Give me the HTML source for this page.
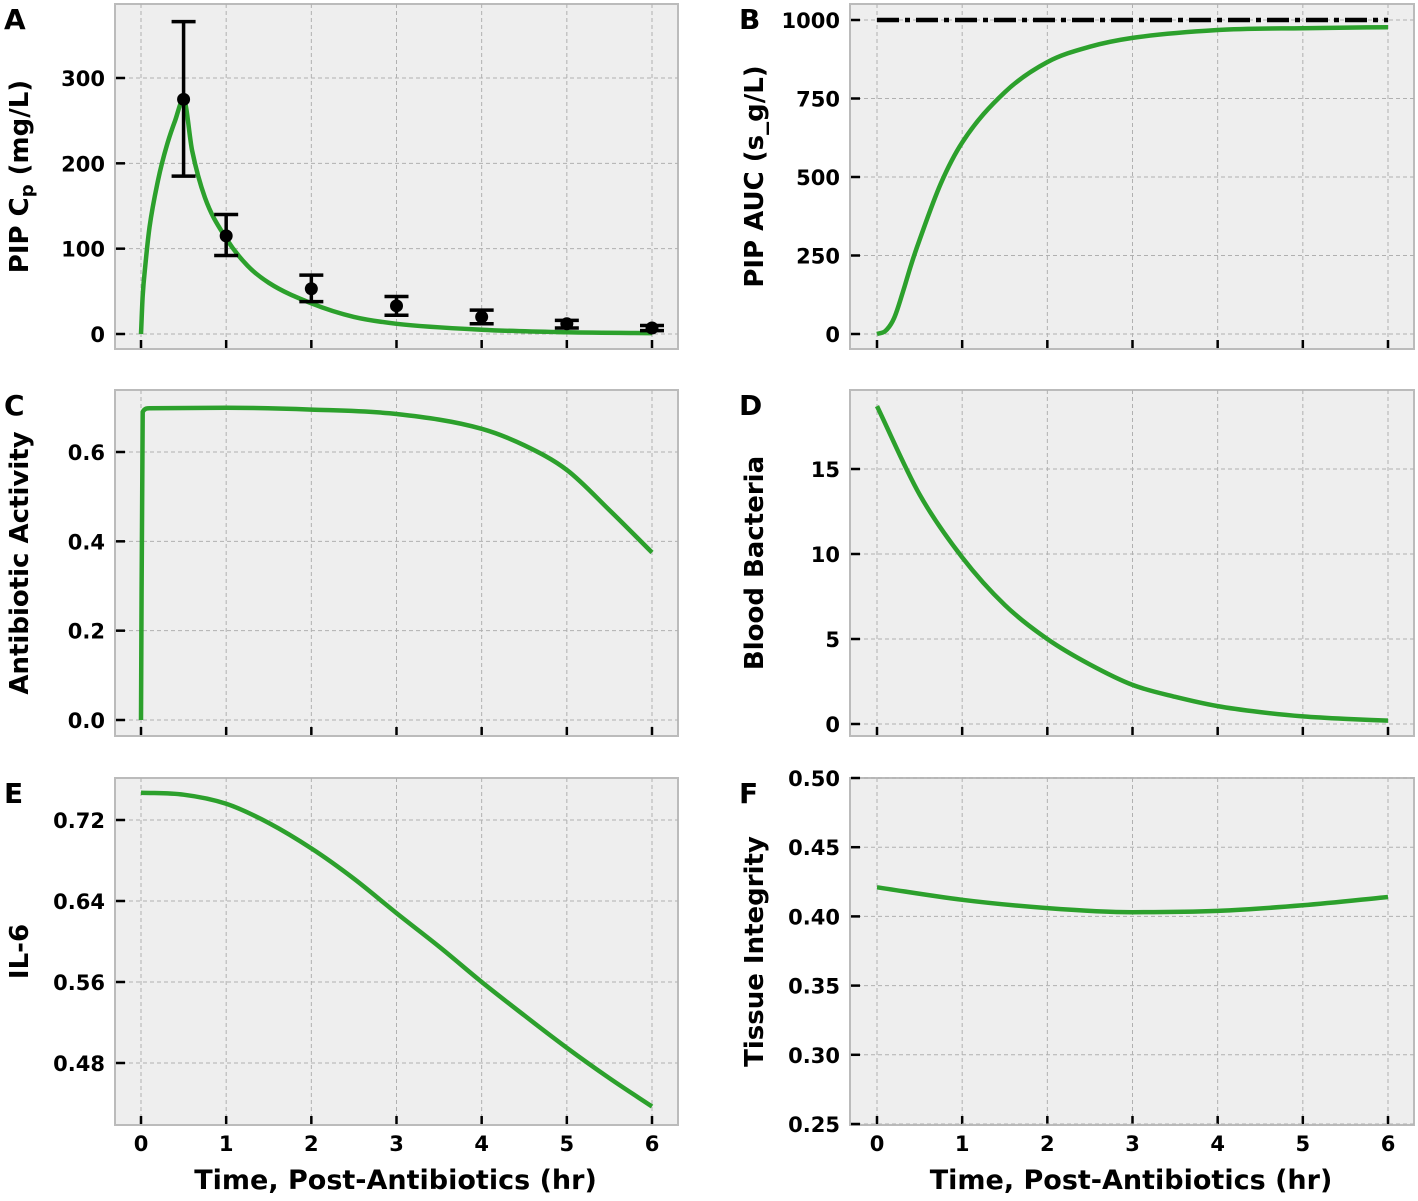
<!DOCTYPE html>
<html><head><meta charset="utf-8"><style>
body{margin:0;background:#fff;}
svg text{font-family:"DejaVu Sans","Liberation Sans",sans-serif;font-weight:bold;fill:#000;}
</style></head><body>
<svg id="fig" width="1418" height="1196" xmlns="http://www.w3.org/2000/svg"></svg>
<script>
// ---- data ----
const xTicks=[0,1,2,3,4,5,6];
const aT=[0,0.02,0.05,0.1,0.2,0.3,0.4,0.5,0.6,0.75,1,1.25,1.5,2,2.5,3,4,5,6];
const aV=[0,45,80,125,180,220,250,275,215,160,112,80,60,36,20,12,5,2,1];
const aObsT=[0.5,1,2,3,4,5,6];
const aObsV=[275,115,53,33,20,12,7];
const aObsLo=[185,92,38,22,12,7,4];
const aObsHi=[366,140,69,44,28,16,10];
const bT=[0,0.1,0.2,0.3,0.4,0.5,0.75,1,1.5,2,2.5,3,4,5,6];
const bV=[0,10,50,130,220,300,480,610,770,866,915,943,968,974,977];
const bTarget=[1000];
const cT=[0,0.02,0.1,1,2,3,4,4.5,5,5.5,6];
const cV=[0,0.69,0.698,0.699,0.695,0.685,0.652,0.615,0.56,0.47,0.375];
const dT=[0,0.5,1,1.5,2,2.5,3,3.5,4,4.5,5,5.5,6];
const dV=[18.7,13.5,9.8,7,5,3.5,2.3,1.6,1.05,0.7,0.45,0.3,0.2];
const eT=[0,0.5,1,1.5,2,2.5,3,3.5,4,4.5,5,5.5,6];
const eV=[0.747,0.745,0.736,0.717,0.692,0.662,0.628,0.595,0.56,0.527,0.495,0.465,0.437];
const fT=[0,1,2,3,4,5,6];
const fV=[0.421,0.412,0.406,0.403,0.404,0.408,0.414];
const aTicks=[0,100,200,300], bTicks=[0,250,500,750,1000], cTicks=[0,0.2,0.4,0.6];
const cTickLabels=["0.0","0.2","0.4","0.6"];
const dTicks=[0,5,10,15], eTicks=[0.48,0.56,0.64,0.72], fTicks=[0.25,0.30,0.35,0.40,0.45,0.50];

const NS="http://www.w3.org/2000/svg", svg=document.getElementById('fig');
function el(tag,attrs,parent,txt){const e=document.createElementNS(NS,tag);for(const k in attrs)e.setAttribute(k,attrs[k]);if(txt!==undefined)e.textContent=txt;(parent||svg).appendChild(e);return e;}
// monotone cubic (Fritsch-Carlson)
function smooth(P){
  const n=P.length, dx=[], s=[], m=[];
  for(let i=0;i<n-1;i++){dx[i]=P[i+1][0]-P[i][0];s[i]=(P[i+1][1]-P[i][1])/dx[i];}
  m[0]=s[0];m[n-1]=s[n-2];
  for(let i=1;i<n-1;i++){m[i]=(s[i-1]*s[i]<=0)?0:(s[i-1]+s[i])/2;}
  for(let i=0;i<n-1;i++){
    if(s[i]===0){m[i]=0;m[i+1]=0;continue;}
    const a=m[i]/s[i],b=m[i+1]/s[i],h=a*a+b*b;
    if(h>9){const t=3/Math.sqrt(h);m[i]=t*a*s[i];m[i+1]=t*b*s[i];}
  }
  let d='M'+P[0][0].toFixed(1)+','+P[0][1].toFixed(1);
  for(let i=0;i<n-1;i++){
    const h=dx[i]/3;
    d+=` C${(P[i][0]+h).toFixed(1)},${(P[i][1]+m[i]*h).toFixed(1)} ${(P[i+1][0]-h).toFixed(1)},${(P[i+1][1]-m[i+1]*h).toFixed(1)} ${P[i+1][0].toFixed(1)},${P[i+1][1].toFixed(1)}`;
  }
  return d;
}
function panel(o){
  const g=el('g',{});
  
  
  const xs=t=>o.x0+(o.x1-o.x0)*t/6;
  const ys=v=>o.yp0+(v-o.v0)*(o.yp1-o.yp0)/(o.v1-o.v0);
  const bg=el('rect',{x:o.L,y:o.T,width:o.R-o.L,height:o.B-o.T,fill:'#eeeeee',stroke:'#bbbbbb','stroke-width':2},g);
  
  xTicks.forEach(t=>{
    const gl=el('line',{x1:xs(t),x2:xs(t),y1:o.T,y2:o.B,stroke:'#b0b0b0','stroke-width':1,'stroke-dasharray':'4,3'},g);
    
    el('line',{x1:xs(t),x2:xs(t),y1:o.B-1,y2:o.B-9,stroke:'#000','stroke-width':2.5},g);
    if(o.xlabels){const tl=el('text',{x:xs(t),y:o.B+26,'font-size':21,'text-anchor':'middle'},g,String(t));
      }
  });
  o.ticks.forEach((v,i)=>{
    const y=ys(v);
    const gl=el('line',{x1:o.L,x2:o.R,y1:y,y2:y,stroke:'#b0b0b0','stroke-width':1,'stroke-dasharray':'4,3'},g);
    
    el('line',{x1:o.L+1,x2:o.L+10,y1:y,y2:y,stroke:'#000','stroke-width':2.5},g);
    const tl=el('text',{x:o.L-10,y:y+8,'font-size':21,'text-anchor':'end'},g,o.labels?o.labels[i]:String(v));
    
  });
  const pts=o.t.map((t,i)=>[xs(t),ys(o.v[i])]);
  const p=el('path',{d:smooth(pts),fill:'none',stroke:'#2ca02c','stroke-width':4.5,'stroke-linejoin':'round'},g);
  
  if(o.after)o.after(g,xs,ys);
  const cy=(o.T+o.B)/2, lx=o.L-87;
  const yl=el('text',{x:lx,y:cy,'font-size':26,'text-anchor':'middle',transform:`rotate(-90 ${lx} ${cy})`},g);
  
  if(o.ylabelHTML){yl.innerHTML=o.ylabelHTML;}else yl.textContent=o.ylabel;
  const lt=el('text',{x:o.L-111,y:o.T+25,'font-size':28,'text-anchor':'start'},g,o.letter);
  
  if(o.xlabels){const xl=el('text',{x:(o.L+o.R)/2-1,y:o.B+64,'font-size':27,'text-anchor':'middle'},g,'Time, Post-Antibiotics (hr)');
    }
}
const LL=115,LR=678,RL=850,RR=1414;
const rows=[[4,349],[390,736],[778,1125]];
panel({letter:'A',L:LL,R:LR,T:rows[0][0],B:rows[0][1],x0:141,x1:652,v0:0,v1:300,yp0:334,yp1:78,ticks:aTicks,t:aT,v:aV,
  ylabelHTML:'PIP C<tspan font-size="18" dy="5">p</tspan><tspan dy="-5"> (mg/L)</tspan>',
  after:(g,xs,ys)=>{aObsT.forEach((t,i)=>{
    const eg=el('g',{},g);
    
    const x=xs(t);
    el('line',{x1:x,x2:x,y1:ys(aObsLo[i]),y2:ys(aObsHi[i]),stroke:'#000','stroke-width':3.5},eg);
    el('line',{x1:x-12,x2:x+12,y1:ys(aObsLo[i]),y2:ys(aObsLo[i]),stroke:'#000','stroke-width':3.5},eg);
    el('line',{x1:x-12,x2:x+12,y1:ys(aObsHi[i]),y2:ys(aObsHi[i]),stroke:'#000','stroke-width':3.5},eg);
    el('circle',{cx:x,cy:ys(aObsV[i]),r:6.5,fill:'#000'},eg);});}});
panel({letter:'B',L:RL,R:RR,T:rows[0][0],B:rows[0][1],x0:877,x1:1388,v0:0,v1:1000,yp0:334,yp1:20,ticks:bTicks,t:bT,v:bV,ylabel:'PIP AUC (s_g/L)',
  after:(g,xs,ys)=>{const l=el('line',{x1:xs(0),x2:xs(6),y1:ys(bTarget[0]),y2:ys(bTarget[0]),stroke:'#000','stroke-width':4.5,'stroke-dasharray':'22,6,5,6'},g);
    }});
panel({letter:'C',L:LL,R:LR,T:rows[1][0],B:rows[1][1],x0:141,x1:652,v0:0,v1:0.6,yp0:720,yp1:452,ticks:cTicks,labels:cTickLabels,t:cT,v:cV,ylabel:'Antibiotic Activity'});
panel({letter:'D',L:RL,R:RR,T:rows[1][0],B:rows[1][1],x0:877,x1:1388,v0:0,v1:15,yp0:724,yp1:469,ticks:dTicks,t:dT,v:dV,ylabel:'Blood Bacteria'});
panel({letter:'E',L:LL,R:LR,T:rows[2][0],B:rows[2][1],x0:141,x1:652,v0:0.48,v1:0.72,yp0:1063,yp1:820,ticks:eTicks,labels:eTicks.map(v=>v.toFixed(2)),t:eT,v:eV,ylabel:'IL-6',xlabels:true});
panel({letter:'F',L:RL,R:RR,T:rows[2][0],B:rows[2][1],x0:877,x1:1388,v0:0.25,v1:0.5,yp0:1124,yp1:778,ticks:fTicks,labels:fTicks.map(v=>v.toFixed(2)),t:fT,v:fV,ylabel:'Tissue Integrity',xlabels:true});
</script>
</body></html>
